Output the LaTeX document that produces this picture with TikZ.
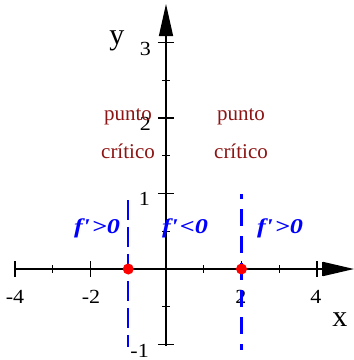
\documentclass[tikz,border=0pt]{standalone}
\usepackage{fontspec}
\setmainfont{Liberation Serif}
\usetikzlibrary{arrows.meta}
\definecolor{critred}{RGB}{140,20,20}
\definecolor{dotred}{RGB}{255,0,0}
\definecolor{fblue}{RGB}{0,0,255}
\begin{document}
\begin{tikzpicture}[x=1pt,y=-1pt,
  axis/.style={line width=1.4pt,black},
  tickline/.style={line width=1.2pt,black},
  numlbl/.style={inner sep=0pt,xscale=1.1,font=\fontsize{20}{24}\selectfont},
  axlbl/.style={inner sep=0pt,anchor=base,font=\fontsize{30}{34}\selectfont},
  critlbl/.style={inner sep=0pt,anchor=base,text=critred,font=\fontsize{21}{25}\selectfont},
  derivlbl/.style={inner sep=0pt,anchor=base,xscale=1.25,text=fblue,font=\fontsize{21}{25}\selectfont\bfseries\itshape},
  thindash/.style={fblue,line width=1.5pt,dash pattern=on 20pt off 7pt},
  thickdash/.style={fblue,line width=3pt,dash pattern=on 17pt off 10pt,dash phase=12pt},
  critdot/.style={circle,fill=dotred,inner sep=0pt,minimum size=11pt}
]
\useasboundingbox (0,0) rectangle (354,360);
% axes
\coordinate (xs) at (14,269);
\coordinate (xe) at (354,269);
\coordinate (ys) at (166,346);
\coordinate (ye) at (166,4);
\draw[axis,-{Triangle[length=31pt,width=14pt]}] (xs) -- (xe);
\draw[axis,-{Triangle[length=32pt,width=14pt]}] (ys) -- (ye);
% x ticks
\foreach \k in {-4,-2,0,2,4} \draw[tickline] ({166+37.75*\k},261) -- ({166+37.75*\k},277);
\foreach \k in {-3,-1,1,3} \draw[tickline] ({166+37.75*\k},265) -- ({166+37.75*\k},273);
\draw[tickline] (323,262) -- (323,276);
% y ticks
\foreach \k in {-1,0,1,2,3} \draw[tickline] (158,{269-75.5*\k}) -- (174,{269-75.5*\k});
\foreach \k in {-0.5,0.5,1.5,2.5} \draw[tickline] (162,{269-75.5*\k}) -- (170,{269-75.5*\k});
% x labels
\node[numlbl,anchor=base] (lxa) at (15,303) {-4};
\node[numlbl,anchor=base] (lxb) at (91,303) {-2};
\node[numlbl,anchor=base] (lxc) at (241,303) {2};
\node[numlbl,anchor=base] (lxd) at (316,303) {4};
% y labels
\node[numlbl,anchor=base east] (lya) at (151,55) {3};
\node[numlbl,anchor=base east] (lyb) at (151,130) {2};
\node[numlbl,anchor=base east] (lyc) at (150,205) {1};
\node[numlbl,anchor=base east] (lyd) at (149,357) {-1};
% axis names
\node[axlbl] (xname) at (340,326) {x};
\node[axlbl] (yname) at (117,44) {y};
% critical labels
\node[critlbl] (pa) at (128,120) {punto};
\node[critlbl] (ca) at (128,158) {crítico};
\node[critlbl] (pb) at (241,120) {punto};
\node[critlbl] (cb) at (241,158) {crítico};
% dashed lines
\coordinate (da) at (128.25,200);
\coordinate (db) at (128.25,347);
\coordinate (dc) at (241.5,194);
\coordinate (dd) at (241.5,350);
\draw[thindash] (da) -- (db);
\draw[thickdash] (dc) -- (dd);
% derivative labels
\node[derivlbl] (fa) at (97,233) {f\textquotesingle\kern1.5pt>0};
\node[derivlbl] (fb) at (185,233) {f\textquotesingle\kern1.5pt<0};
\node[derivlbl] (fc) at (280,233) {f\textquotesingle\kern1.5pt>0};
% critical points
\node[critdot] (cpa) at (128.25,269) {};
\node[critdot] (cpb) at (241.5,269) {};
\end{tikzpicture}
\end{document}
